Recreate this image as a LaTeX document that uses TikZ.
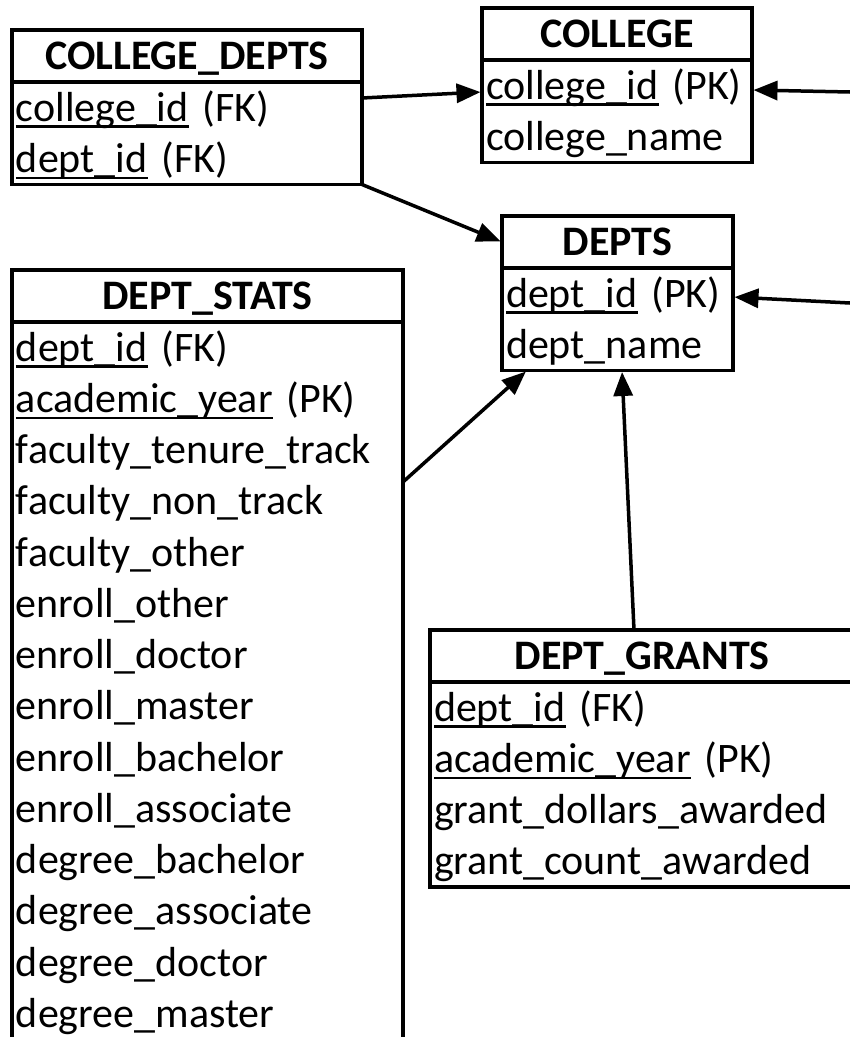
\documentclass[tikz,border=0pt]{standalone}
\usepackage{fontspec}
\setmainfont{Carlito}
\usepackage{tikz}
\usetikzlibrary{positioning, arrows.meta}

\newsavebox{\keybox}
\newcommand{\rowstrut}{\lineskiplimit=-100pt\relax\rule[-12.25pt]{0pt}{51.25pt}}
\newcommand{\keyfld}[1]{\leavevmode\sbox{\keybox}{#1}\rlap{\rule[-6.5pt]{\wd\keybox}{2.2pt}}\usebox{\keybox}}

\begin{document}
\begin{tikzpicture}[x=1pt, y=-1pt,
  tbl/.style={draw, line width=3.5pt, inner xsep=4pt, inner ysep=0pt, outer sep=0pt,
    font=\fontsize{42}{51.25}\selectfont,
    execute at begin node=\rowstrut, execute at end node=\rowstrut},
  thead/.style={tbl, anchor=north west, align=center, minimum height=52pt,
    font=\fontsize{42}{51.25}\selectfont\bfseries},
  tbody/.style={tbl, below=0pt of #1, align=left},
  link/.style={line width=3.5pt, shorten >=1.5pt, -{Triangle[length=24pt,width=19pt]}}]
  \useasboundingbox (0,0) rectangle (850,1037);
  \clip (0,0) rectangle (850,1037);

  \node[thead, text width=342pt] (cdh) at (12,30) {COLLEGE\_DEPTS};
  \node[tbody=cdh, text width=342pt] (cdb) {\keyfld{college\_id} (FK)\\ \keyfld{dept\_id} (FK)};

  \node[thead, text width=262pt] (colh) at (482,8) {COLLEGE};
  \node[tbody=colh, text width=262pt] (colb) {\keyfld{college\_id} (PK)\\ college\_name};

  \node[thead, text width=223pt] (dh) at (502,216) {DEPTS};
  \node[tbody=dh, text width=223pt] (db) {\keyfld{dept\_id} (PK)\\ dept\_name};

  \node[thead, text width=383pt] (sh) at (12,270) {DEPT\_STATS};
  \node[tbody=sh, text width=383pt] (sb) {\keyfld{dept\_id} (FK)\\ \keyfld{academic\_year} (PK)\\
    faculty\_tenure\_track\\ faculty\_non\_track\\ faculty\_other\\ enroll\_other\\
    enroll\_doctor\\ enroll\_master\\ enroll\_bachelor\\ enroll\_associate\\
    degree\_bachelor\\ degree\_associate\\ degree\_doctor\\ degree\_master};

  \node[thead, text width=416pt] (gh) at (430,630) {DEPT\_GRANTS};
  \node[tbody=gh, text width=416pt] (gb) {\keyfld{dept\_id} (FK)\\ \keyfld{academic\_year} (PK)\\
    grant\_dollars\_awarded\\ grant\_count\_awarded};

  \coordinate (rimA) at (850,92);
  \coordinate (rimB) at (850,303);

  \draw[link] ([yshift=-16pt]cdb.north east) -- ([yshift=-32pt]colb.north west);
  \draw[link] (rimA) -- ([yshift=-30pt]colb.north east);
  \draw[link] (cdb.south east) -- (dh.west);
  \draw[link] (rimB) -- ([yshift=-29pt]db.north east);
  \draw[link] ([yshift=-160pt]sb.north east) -- ([xshift=25pt]db.south west);
  \draw[link] ([xshift=204pt]gh.north west) -- ([xshift=120pt]db.south west);
\end{tikzpicture}
\end{document}
